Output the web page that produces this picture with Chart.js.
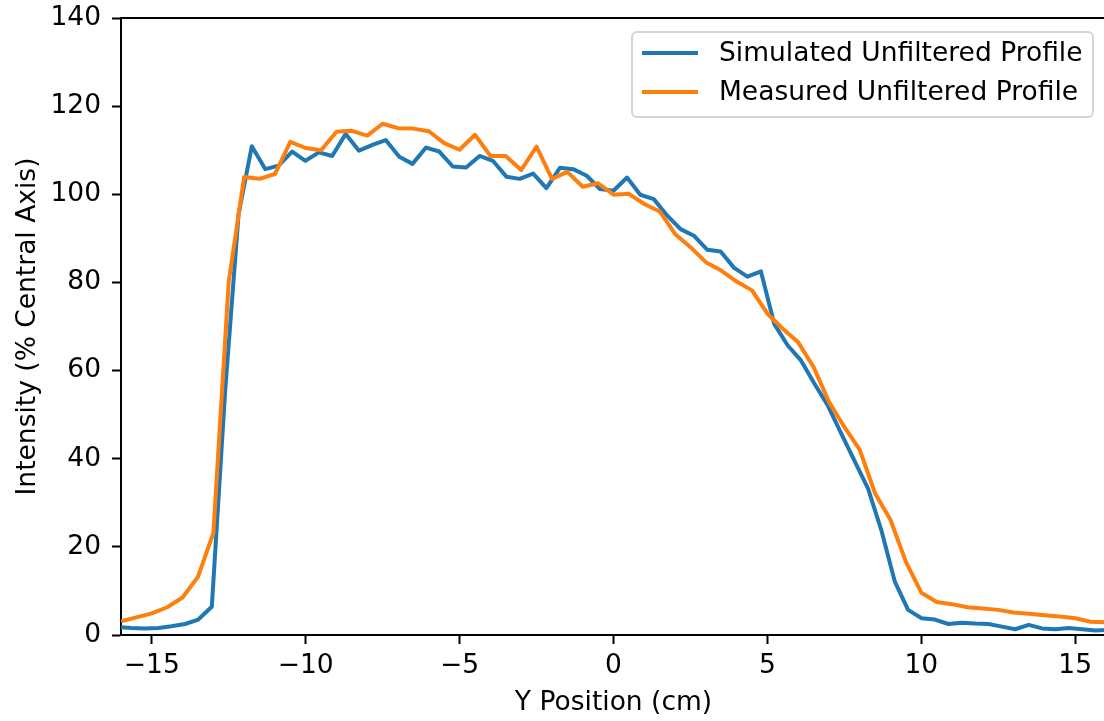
<!DOCTYPE html>
<html>
<head>
<meta charset="utf-8">
<script src="https://cdn.jsdelivr.net/npm/chart.js@4.4.1/dist/chart.umd.min.js"></script>
<style>
  html, body { margin: 0; padding: 0; overflow: hidden; background: #fff; }
  canvas { display: block; }
</style>
</head>
<body>
<canvas id="c" width="1110" height="721"></canvas>
<script>
// ---- data ----
const simX = [-16.10,-15.66,-15.23,-14.79,-14.36,-13.92,-13.49,-13.05,-12.62,-12.18,
  -11.75,-11.31,-10.88,-10.44,-10.01,-9.57,-9.14,-8.70,-8.27,-7.83,
  -7.40,-6.96,-6.53,-6.09,-5.66,-5.22,-4.79,-4.35,-3.92,-3.48,
  -3.05,-2.61,-2.18,-1.74,-1.31,-0.87,-0.44,0.00,0.44,0.87,
  1.31,1.74,2.18,2.61,3.05,3.48,3.92,4.35,4.79,5.22,
  5.66,6.09,6.53,6.96,7.40,7.83,8.27,8.70,9.14,9.57,
  10.01,10.44,10.88,11.31,11.75,12.18,12.62,13.05,13.49,13.92,
  14.36,14.79,15.23,15.66,16.10];
const simY = [1.8,1.6,1.5,1.6,2.0,2.5,3.5,6.4,55.0,95.5,
  110.9,105.7,106.5,109.7,107.6,109.5,108.7,113.7,109.9,111.2,
  112.3,108.5,106.9,110.6,109.7,106.3,106.1,108.7,107.6,104.0,
  103.5,104.7,101.4,106.0,105.7,104.2,101.2,100.8,103.8,99.9,
  98.9,95.2,92.1,90.6,87.4,87.0,83.3,81.3,82.5,70.6,
  65.7,62.3,57.0,52.1,45.7,39.5,33.2,23.8,12.1,5.7,
  3.8,3.5,2.5,2.8,2.6,2.5,1.9,1.3,2.3,1.5,
  1.3,1.6,1.3,1.0,1.2];
const measX = [-16,-15.5,-15,-14.5,-14,-13.5,-13,-12.5,-12,-11.5,
  -11,-10.5,-10,-9.5,-9,-8.5,-8,-7.5,-7,-6.5,
  -6,-5.5,-5,-4.5,-4,-3.5,-3,-2.5,-2,-1.5,
  -1,-0.5,0,0.5,1,1.5,2,2.5,3,3.5,
  4,4.5,5,5.5,6,6.5,7,7.5,8,8.5,
  9,9.5,10,10.5,11,11.5,12,12.5,13,13.5,
  14,14.5,15,15.5,16];
const measY = [3.1,4.0,4.9,6.3,8.5,13.2,23.1,80.2,103.9,103.5,
  104.6,111.9,110.5,110.0,114.2,114.4,113.3,116.0,115.0,114.9,
  114.3,111.6,110.1,113.5,108.7,108.7,105.5,110.8,103.5,105.1,
  101.7,102.5,99.9,100.1,97.8,96.1,91.0,88.0,84.6,82.7,
  80.2,78.2,72.9,69.5,66.4,60.8,52.9,47.2,42.0,32.1,
  26.1,16.6,9.6,7.5,7.0,6.3,6.0,5.7,5.1,4.8,
  4.5,4.2,3.8,3.0,2.9];
const seriesLabels = ['Simulated Unfiltered Profile', 'Measured Unfiltered Profile'];
const xTicks = [-15,-10,-5,0,5,10,15];
const yTicks = [0,20,40,60,80,100,120,140];
const xTitle = 'Y Position (cm)';
const yTitle = 'Intensity (% Central Axis)';

// ---- styling ----
const FONT = '"DejaVu Sans", "Liberation Sans", sans-serif';
const FSIZE = 26.5;
const BLUE = '#1f77b4', ORANGE = '#ff7f0e';

const toPts = (xs, ys) => xs.map((x, i) => ({x, y: ys[i]}));

const frame = {
  id: 'frame',
  afterDraw(chart) {
    const {ctx, chartArea: a} = chart;
    ctx.save();
    ctx.strokeStyle = '#000';
    ctx.lineWidth = 2;
    ctx.beginPath();
    ctx.moveTo(a.left, a.top); ctx.lineTo(a.right, a.top); ctx.lineTo(a.right, a.bottom);
    ctx.stroke();
    // legend
    const w = 461, h = 85;
    const lx = a.right - 13 - w, ly = a.top + 14;
    ctx.beginPath();
    ctx.roundRect(lx, ly, w, h, 5);
    ctx.fillStyle = 'rgba(255,255,255,0.8)';
    ctx.fill();
    ctx.strokeStyle = '#d5d5d5';
    ctx.lineWidth = 2;
    ctx.stroke();
    ctx.font = FSIZE + 'px ' + FONT;
    ctx.textBaseline = 'middle';
    ctx.textAlign = 'left';
    chart.data.datasets.forEach((ds, i) => {
      const yy = ly + 21 + i * 39;
      ctx.beginPath();
      ctx.moveTo(lx + 10, yy); ctx.lineTo(lx + 66, yy);
      ctx.strokeStyle = ds.borderColor; ctx.lineWidth = 4;
      ctx.stroke();
      ctx.fillStyle = '#000';
      ctx.fillText(ds.label, lx + 87, yy + 1);
    });
    ctx.restore();
  }
};

new Chart(document.getElementById('c'), {
  type: 'line',
  data: {
    datasets: [
      { label: seriesLabels[0], data: toPts(simX, simY), borderColor: BLUE, backgroundColor: BLUE,
        borderWidth: 4, pointRadius: 0, tension: 0, order: 1, borderJoinStyle: 'round' },
      { label: seriesLabels[1], data: toPts(measX, measY), borderColor: ORANGE, backgroundColor: ORANGE,
        borderWidth: 4, pointRadius: 0, tension: 0, order: 0, borderJoinStyle: 'round' }
    ]
  },
  options: {
    responsive: false,
    animation: false,
    devicePixelRatio: 1,
    layout: { padding: { top: 18, right: 4, left: 0, bottom: 0 } },
    plugins: { legend: { display: false }, tooltip: { enabled: false } },
    scales: {
      x: {
        type: 'linear', min: -16, max: 16,
        afterBuildTicks: (s) => { s.ticks = xTicks.map(v => ({value: v})); },
        afterFit: (s) => { s.height = 86; s.paddingLeft = 0; s.paddingRight = 0; },
        ticks: {
          color: '#000', font: { family: FONT, size: FSIZE }, padding: 6, maxRotation: 0,
          callback: (v) => (v < 0 ? '\u2212' + Math.abs(v) : String(v))
        },
        grid: { drawOnChartArea: false, drawTicks: true, tickLength: 9, tickWidth: 2, color: '#000' },
        border: { display: true, color: '#000', width: 2 },
        title: { display: true, text: xTitle, color: '#000', font: { family: FONT, size: FSIZE, lineHeight: 1.2 },
                 padding: { top: 0, bottom: 2 } }
      },
      y: {
        type: 'linear', min: 0, max: 140,
        afterBuildTicks: (s) => { s.ticks = yTicks.map(v => ({value: v})); },
        afterFit: (s) => { s.width = 121; s.paddingTop = 0; s.paddingBottom = 0; },
        ticks: { color: '#000', font: { family: FONT, size: FSIZE }, padding: 11 },
        grid: { drawOnChartArea: false, drawTicks: true, tickLength: 9, tickWidth: 2, color: '#000' },
        border: { display: true, color: '#000', width: 2 },
        title: { display: true, text: yTitle, color: '#000', font: { family: FONT, size: FSIZE, lineHeight: 1.2 },
                 padding: { top: 12, bottom: 0 } }
      }
    }
  },
  plugins: [frame]
});
</script>
</body>
</html>
